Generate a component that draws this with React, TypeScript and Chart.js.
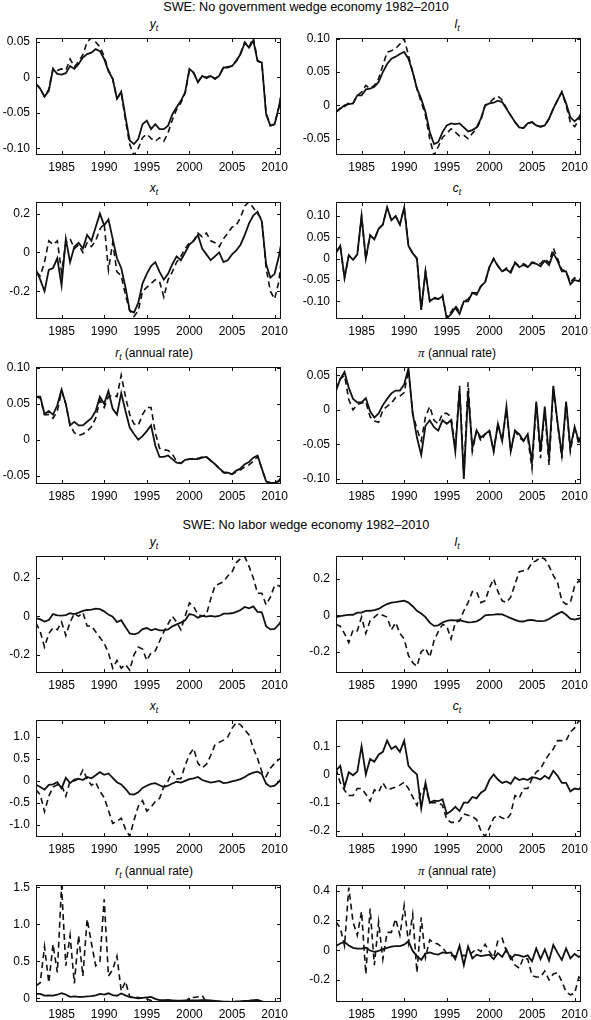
import { useEffect, useRef } from 'react';
import Chart from 'chart.js/auto';

// half-year sample dates, 1982 to 2010Q4
const dates = [
  1982, 1982.5, 1983, 1983.5, 1984, 1984.5, 1985, 1985.5, 1986, 1986.5,
  1987, 1987.5, 1988, 1988.5, 1989, 1989.5, 1990, 1990.5, 1991, 1991.5,
  1992, 1992.5, 1993, 1993.5, 1994, 1994.5, 1995, 1995.5, 1996, 1996.5,
  1997, 1997.5, 1998, 1998.5, 1999, 1999.5, 2000, 2000.5, 2001, 2001.5,
  2002, 2002.5, 2003, 2003.5, 2004, 2004.5, 2005, 2005.5, 2006, 2006.5,
  2007, 2007.5, 2008, 2008.5, 2009, 2009.5, 2010, 2010.5, 2010.75,
];
const yearTicks = [1985, 1990, 1995, 2000, 2005, 2010];

// data (solid line)
const yData = [-0.009, -0.016, -0.027, -0.019, 0.012, 0.005, 0.004, 0.006, 0.016, 0.012, 0.019, 0.028, 0.033, 0.035, 0.04, 0.037, 0.026, 0.009, -0.002, -0.03, -0.02, -0.056, -0.089, -0.094, -0.087, -0.066, -0.061, -0.073, -0.066, -0.073, -0.073, -0.068, -0.052, -0.042, -0.033, -0.021, 0.012, 0.007, -0.007, 0.002, -0.001, 0.002, -0.002, 0.002, 0.014, 0.014, 0.016, 0.023, 0.033, 0.049, 0.042, 0.052, 0.023, 0.021, -0.052, -0.068, -0.066, -0.042, -0.026];
const lData = [-0.01, -0.005, 0.0, 0.002, 0.003, 0.015, 0.015, 0.024, 0.025, 0.028, 0.035, 0.05, 0.062, 0.07, 0.073, 0.077, 0.08, 0.07, 0.05, 0.025, 0.01, -0.01, -0.04, -0.058, -0.055, -0.04, -0.03, -0.027, -0.028, -0.027, -0.033, -0.039, -0.037, -0.033, -0.02, 0.0, 0.003, 0.004, 0.007, 0.005, -0.005, -0.015, -0.025, -0.033, -0.034, -0.027, -0.025, -0.03, -0.032, -0.03, -0.02, -0.005, 0.008, 0.02, 0.003, -0.018, -0.024, -0.018, -0.012];
const xData = [-0.09, -0.14, -0.2, -0.09, -0.08, -0.03, -0.17, 0.07, -0.05, 0.03, 0.05, 0.02, 0.09, 0.06, 0.13, 0.2, 0.14, 0.17, 0.07, -0.03, -0.08, -0.18, -0.3, -0.31, -0.26, -0.16, -0.11, -0.07, -0.05, -0.1, -0.14, -0.11, -0.06, -0.02, -0.04, 0.0, 0.04, 0.06, 0.09, 0.02, -0.01, -0.04, -0.02, 0.0, -0.05, -0.04, -0.01, 0.01, 0.04, 0.09, 0.15, 0.19, 0.21, 0.16, -0.06, -0.13, -0.11, -0.02, 0.04];
const cData = [0.014, 0.03, -0.045, 0.008, -0.003, 0.01, 0.1, 0.0, 0.055, 0.045, 0.07, 0.08, 0.12, 0.09, 0.1, 0.08, 0.12, 0.03, 0.013, 0.0, -0.12, -0.03, -0.1, -0.093, -0.095, -0.088, -0.14, -0.13, -0.115, -0.13, -0.1, -0.1, -0.08, -0.085, -0.065, -0.055, -0.02, 0.0, -0.018, -0.03, -0.025, -0.033, -0.01, -0.02, -0.015, -0.02, -0.01, -0.012, -0.018, -0.005, -0.015, 0.013, -0.005, -0.03, -0.03, -0.06, -0.05, -0.053, -0.045];
const rData = [0.06, 0.06, 0.036, 0.04, 0.035, 0.048, 0.07, 0.05, 0.02, 0.025, 0.02, 0.02, 0.025, 0.03, 0.04, 0.06, 0.05, 0.068, 0.043, 0.035, 0.065, 0.04, 0.017, 0.008, 0.0, 0.005, 0.012, 0.02, -0.008, -0.024, -0.024, -0.022, -0.027, -0.032, -0.033, -0.028, -0.027, -0.027, -0.027, -0.025, -0.024, -0.029, -0.034, -0.04, -0.045, -0.046, -0.048, -0.043, -0.04, -0.034, -0.031, -0.025, -0.022, -0.04, -0.058, -0.06, -0.06, -0.058, -0.055];
const piData = [0.028, 0.045, 0.055, 0.032, 0.016, 0.011, 0.011, 0.017, -0.002, -0.011, -0.005, 0.007, 0.016, 0.024, 0.028, 0.028, 0.037, 0.06, -0.005, -0.04, -0.065, -0.023, -0.015, -0.025, -0.03, -0.015, -0.02, -0.015, -0.06, 0.03, -0.1, 0.025, -0.055, -0.03, -0.04, -0.035, -0.03, -0.06, -0.02, -0.045, 0.005, -0.06, -0.03, -0.035, -0.045, -0.035, -0.075, 0.012, -0.06, 0.005, -0.07, 0.035, -0.018, -0.065, 0.012, -0.055, -0.025, -0.045, -0.038];

// no government wedge economy (dashed, top block)
const yNoGov = [-0.009, -0.016, -0.027, -0.017, 0.013, 0.01, 0.012, 0.01, 0.026, 0.015, 0.022, 0.032, 0.05, 0.056, 0.05, 0.043, 0.03, 0.01, -0.002, -0.03, -0.022, -0.06, -0.095, -0.11, -0.1, -0.085, -0.08, -0.086, -0.09, -0.085, -0.09, -0.078, -0.06, -0.045, -0.036, -0.022, 0.01, 0.006, -0.006, 0.002, 0.0, 0.003, -0.002, 0.003, 0.014, 0.015, 0.016, 0.024, 0.034, 0.05, 0.043, 0.056, 0.024, 0.02, -0.05, -0.068, -0.066, -0.042, -0.026];
const lNoGov = [-0.01, -0.004, -0.002, 0.004, 0.003, 0.015, 0.02, 0.03, 0.025, 0.03, 0.04, 0.06, 0.08, 0.082, 0.085, 0.092, 0.1, 0.075, 0.05, 0.025, 0.005, -0.015, -0.05, -0.075, -0.062, -0.048, -0.042, -0.035, -0.04, -0.046, -0.045, -0.05, -0.042, -0.035, -0.022, 0.0, 0.004, 0.01, 0.014, 0.008, -0.004, -0.015, -0.025, -0.033, -0.034, -0.027, -0.025, -0.03, -0.032, -0.03, -0.02, -0.005, 0.008, 0.02, 0.0, -0.025, -0.032, -0.022, -0.014];
const xNoGov = [-0.1, -0.12, -0.05, 0.06, 0.04, 0.06, -0.1, 0.05, 0.07, 0.02, 0.04, 0.0, 0.05, 0.03, 0.06, 0.12, 0.15, -0.09, 0.05, -0.1, -0.12, -0.22, -0.3, -0.33, -0.3, -0.2, -0.18, -0.16, -0.14, -0.15, -0.23, -0.14, -0.1, -0.05, -0.02, 0.02, 0.05, 0.06, 0.1, 0.08, 0.1, 0.06, 0.05, 0.03, 0.07, 0.1, 0.13, 0.14, 0.18, 0.24, 0.26, 0.23, 0.2, 0.17, -0.08, -0.2, -0.24, -0.15, -0.05];
const cNoGov = [0.014, 0.03, -0.045, 0.008, -0.003, 0.01, 0.1, 0.0, 0.055, 0.045, 0.07, 0.08, 0.12, 0.09, 0.1, 0.08, 0.12, 0.03, 0.013, 0.0, -0.12, -0.03, -0.1, -0.09, -0.095, -0.085, -0.14, -0.125, -0.11, -0.125, -0.1, -0.095, -0.08, -0.08, -0.065, -0.055, -0.02, 0.0, -0.016, -0.03, -0.022, -0.03, -0.008, -0.018, -0.012, -0.018, -0.008, -0.01, -0.012, 0.0, -0.01, 0.025, 0.0, -0.025, -0.03, -0.055, -0.045, -0.05, -0.048];
const rNoGov = [0.06, 0.058, 0.035, 0.035, 0.03, 0.04, 0.068, 0.05, 0.02, 0.01, 0.006, 0.008, 0.012, 0.018, 0.03, 0.055, 0.045, 0.06, 0.062, 0.06, 0.09, 0.06, 0.035, 0.022, 0.02, 0.035, 0.045, 0.045, 0.01, -0.012, -0.014, -0.015, -0.02, -0.03, -0.033, -0.028, -0.027, -0.026, -0.026, -0.024, -0.024, -0.029, -0.034, -0.04, -0.046, -0.047, -0.048, -0.045, -0.042, -0.038, -0.035, -0.03, -0.023, -0.04, -0.058, -0.06, -0.06, -0.057, -0.052];
const piNoGov = [0.03, 0.045, 0.05, 0.015, 0.0, 0.008, 0.01, 0.012, -0.01, -0.016, -0.018, 0.0, 0.005, 0.01, 0.018, 0.02, 0.025, 0.058, -0.005, -0.028, -0.045, -0.01, 0.005, -0.015, -0.02, -0.005, -0.005, -0.01, -0.055, 0.035, -0.095, 0.04, -0.06, -0.03, -0.045, -0.035, -0.03, -0.06, -0.02, -0.045, 0.0, -0.06, -0.03, -0.04, -0.045, -0.04, -0.085, 0.01, -0.07, 0.0, -0.08, 0.03, -0.02, -0.07, 0.01, -0.06, -0.025, -0.05, -0.042];

// no labor wedge economy (dashed, bottom block)
const yNoLabor = [-0.035, -0.08, -0.16, -0.09, -0.06, -0.07, -0.03, -0.1, -0.03, 0.015, 0.0, 0.02, -0.05, -0.05, -0.08, -0.11, -0.14, -0.19, -0.27, -0.23, -0.27, -0.25, -0.28, -0.2, -0.16, -0.17, -0.23, -0.19, -0.18, -0.13, -0.08, -0.04, 0.0, -0.03, -0.07, 0.0, 0.07, 0.05, 0.01, 0.0, 0.01, 0.09, 0.16, 0.17, 0.18, 0.21, 0.23, 0.28, 0.3, 0.31, 0.26, 0.2, 0.12, 0.12, 0.06, 0.1, 0.16, 0.16, 0.15];
const lNoLabor = [-0.05, -0.06, -0.1, -0.15, -0.08, -0.085, -0.01, -0.1, -0.03, -0.01, 0.01, 0.0, -0.01, -0.08, -0.04, -0.1, -0.13, -0.22, -0.26, -0.28, -0.2, -0.18, -0.23, -0.14, -0.09, -0.05, -0.06, -0.13, -0.04, -0.03, 0.025, 0.07, 0.13, 0.13, 0.07, 0.08, 0.15, 0.2, 0.13, 0.08, 0.07, 0.1, 0.17, 0.24, 0.245, 0.25, 0.29, 0.3, 0.32, 0.31, 0.27, 0.22, 0.18, 0.08, 0.06, 0.07, 0.16, 0.19, 0.18];
const xNoLabor = [-0.2, -0.32, -0.7, -0.35, -0.14, -0.09, -0.09, -0.35, 0.0, 0.0, 0.05, 0.25, 0.05, -0.1, -0.03, -0.24, -0.38, -0.67, -0.97, -0.92, -0.85, -1.1, -1.26, -0.9, -0.58, -0.45, -0.69, -0.6, -0.47, -0.4, -0.13, 0.0, 0.22, 0.05, 0.05, 0.35, 0.6, 0.74, 0.4, 0.3, 0.38, 0.58, 0.82, 0.88, 0.93, 1.0, 1.2, 1.33, 1.28, 1.17, 1.05, 0.75, 0.51, 0.21, 0.1, 0.29, 0.4, 0.49, 0.52];
const cNoLabor = [0.02, -0.03, -0.056, -0.075, -0.075, -0.05, -0.05, -0.07, -0.095, -0.055, -0.063, -0.03, -0.055, -0.05, -0.045, -0.038, -0.028, -0.05, -0.08, -0.11, -0.06, -0.045, -0.1, -0.1, -0.1, -0.11, -0.16, -0.17, -0.17, -0.165, -0.14, -0.145, -0.15, -0.16, -0.2, -0.22, -0.19, -0.155, -0.145, -0.155, -0.16, -0.14, -0.075, -0.085, -0.05, -0.05, -0.015, 0.008, 0.02, 0.048, 0.072, 0.09, 0.12, 0.12, 0.12, 0.15, 0.165, 0.19, 0.19];
const rNoLabor = [0.17, 0.21, 0.7, 0.21, 0.73, 0.35, 1.52, 0.44, 0.85, 0.2, 0.85, 0.3, 1.07, 0.75, 0.44, 0.5, 1.34, 0.3, 0.39, 0.57, 0.1, 0.23, 0.02, 0.02, 0.01, 0.0, -0.01, -0.03, -0.06, -0.07, -0.07, -0.07, -0.07, -0.07, -0.07, -0.06, 0.01, 0.01, 0.02, 0.04, -0.06, -0.08, -0.08, -0.08, -0.08, -0.08, -0.08, -0.08, -0.08, -0.08, -0.08, -0.08, -0.08, -0.08, -0.08, -0.08, -0.08, -0.08, -0.08];
const piNoLabor = [0.19, 0.15, 0.03, 0.42, 0.19, 0.1, 0.26, -0.16, 0.28, -0.1, 0.19, -0.06, 0.12, 0.12, 0.21, 0.1, 0.3, 0.05, 0.24, -0.15, 0.22, -0.05, 0.07, 0.05, 0.04, 0.015, -0.02, -0.035, -0.04, -0.04, -0.035, -0.04, -0.015, 0.01, -0.01, 0.04, -0.01, -0.05, 0.065, 0.08, -0.01, -0.04, -0.1, -0.12, -0.05, -0.06, -0.17, -0.18, -0.18, -0.14, -0.2, -0.16, -0.15, -0.21, -0.28, -0.3, -0.29, -0.18, -0.19];

// y tick labels per panel
const ticksY1 = ['0.05', '0', '-0.05', '-0.10'];
const ticksL1 = ['0.10', '0.05', '0', '-0.05'];
const ticksX1 = ['0.2', '0', '-0.2'];
const ticksC1 = ['0.10', '0.05', '0', '-0.05', '-0.10'];
const ticksR1 = ['0.10', '0.05', '0', '-0.05'];
const ticksPi1 = ['0.05', '0', '-0.05', '-0.10'];
const ticksY2 = ['0.2', '0', '-0.2'];
const ticksL2 = ['0.2', '0', '-0.2'];
const ticksX2 = ['1.0', '0.5', '0', '-0.5', '-1.0'];
const ticksC2 = ['0.1', '0', '-0.1', '-0.2'];
const ticksR2 = ['1.5', '1.0', '0.5', '0'];
const ticksPi2 = ['0.4', '0.2', '0', '-0.2'];

const FONT = '"Liberation Sans", Arial, Helvetica, sans-serif';
const BOX_W = 245;
const BOX_H = 117;
const PAD_L = 36;
const PAD_T = 8;
const PAD_R = 10;
const PAD_B = 20;
const COL_X = [36, 336];
const TITLE_X = [154, 457];
const ROW_Y = [38, 202, 367, 556, 720, 885];

const panels = [
  { sym: 'y', sub: 't', rest: '', actual: yData, model: yNoGov, min: -0.1094, max: 0.0556, ticks: ticksY1, col: 0, row: 0 },
  { sym: 'l', sub: 't', rest: '', actual: lData, model: lNoGov, min: -0.0744, max: 0.101, ticks: ticksL1, col: 1, row: 0 },
  { sym: 'x', sub: 't', rest: '', actual: xData, model: xNoGov, min: -0.343, max: 0.26, ticks: ticksX1, col: 0, row: 1 },
  { sym: 'c', sub: 't', rest: '', actual: cData, model: cNoGov, min: -0.1416, max: 0.133, ticks: ticksC1, col: 1, row: 1 },
  { sym: 'r', sub: 't', rest: ' (annual rate)', actual: rData, model: rNoGov, min: -0.0617, max: 0.1014, ticks: ticksR1, col: 0, row: 2 },
  { sym: 'π', sub: '', rest: ' (annual rate)', actual: piData, model: piNoGov, min: -0.1073, max: 0.0622, ticks: ticksPi1, col: 1, row: 2 },
  { sym: 'y', sub: 't', rest: '', actual: yData, model: yNoLabor, min: -0.295, max: 0.314, ticks: ticksY2, col: 0, row: 3 },
  { sym: 'l', sub: 't', rest: '', actual: lData, model: lNoLabor, min: -0.317, max: 0.326, ticks: ticksL2, col: 1, row: 3 },
  { sym: 'x', sub: 't', rest: '', actual: xData, model: xNoLabor, min: -1.28, max: 1.39, ticks: ticksX2, col: 0, row: 4 },
  { sym: 'c', sub: 't', rest: '', actual: cData, model: cNoLabor, min: -0.222, max: 0.193, ticks: ticksC2, col: 1, row: 4 },
  { sym: 'r', sub: 't', rest: ' (annual rate)', actual: rData, model: rNoLabor, min: -0.05, max: 1.532, ticks: ticksR2, col: 0, row: 5 },
  { sym: 'π', sub: '', rest: ' (annual rate)', actual: piData, model: piNoLabor, min: -0.348, max: 0.438, ticks: ticksPi2, col: 1, row: 5 },
];

// matlab-ish box with inward tick marks on all four sides
const boxTicks = {
  id: 'boxTicks',
  afterDatasetsDraw(chart: any) {
    const { ctx, chartArea: a, scales } = chart;
    const len = 4;
    ctx.save();
    ctx.strokeStyle = '#111';
    ctx.lineWidth = 1;
    ctx.beginPath();
    scales.x.ticks.forEach((t: any) => {
      const px = Math.round(scales.x.getPixelForValue(t.value)) + 0.5;
      ctx.moveTo(px, a.bottom); ctx.lineTo(px, a.bottom - len);
      ctx.moveTo(px, a.top); ctx.lineTo(px, a.top + len);
    });
    scales.y.ticks.forEach((t: any) => {
      const py = Math.round(scales.y.getPixelForValue(t.value)) + 0.5;
      ctx.moveTo(a.left, py); ctx.lineTo(a.left + len, py);
      ctx.moveTo(a.right, py); ctx.lineTo(a.right - len, py);
    });
    ctx.stroke();
    ctx.strokeRect(a.left + 0.5, a.top + 0.5, a.right - a.left - 1, a.bottom - a.top - 1);
    ctx.restore();
  },
};

function Panel({ p }: { p: any }) {
  const ref = useRef<HTMLCanvasElement>(null);
  const boxLeft = COL_X[p.col];
  const boxTop = ROW_Y[p.row];
  const w = PAD_L + BOX_W + PAD_R;
  const h = PAD_T + BOX_H + PAD_B;

  useEffect(() => {
    if (!ref.current) return;
    const tickValues = p.ticks.map(Number);
    const chart = new Chart(ref.current, {
      type: 'line',
      data: {
        datasets: [
          {
            data: dates.map((d, i) => ({ x: d, y: p.actual[i] })),
            borderColor: '#111',
            borderWidth: 1.8,
            pointRadius: 0,
            tension: 0,
          },
          {
            data: dates.map((d, i) => ({ x: d, y: p.model[i] })),
            borderColor: '#111',
            borderWidth: 1.6,
            borderDash: [6, 4],
            pointRadius: 0,
            tension: 0,
          },
        ],
      },
      options: {
        animation: false,
        responsive: false,
        events: [],
        layout: { padding: { top: PAD_T, right: PAD_R, left: 0, bottom: 0 } },
        plugins: { legend: { display: false }, tooltip: { enabled: false } },
        scales: {
          x: {
            type: 'linear',
            min: 1982,
            max: 2010.75,
            grid: { display: false, drawTicks: false },
            border: { display: false },
            ticks: {
              font: { family: FONT, size: 12 },
              color: '#000',
              padding: 5,
              maxRotation: 0,
              autoSkip: false,
              callback: (v: any) => String(v),
            },
            afterBuildTicks: (s: any) => { s.ticks = yearTicks.map((v) => ({ value: v })); },
            afterFit: (s: any) => { s.height = PAD_B; s.paddingLeft = 0; s.paddingRight = 0; },
          },
          y: {
            min: p.min,
            max: p.max,
            grid: { display: false, drawTicks: false },
            border: { display: false },
            ticks: {
              font: { family: FONT, size: 12 },
              color: '#000',
              padding: 6,
              autoSkip: false,
              callback: (v: any) => p.ticks[tickValues.indexOf(v)] ?? '',
            },
            afterBuildTicks: (s: any) => { s.ticks = tickValues.map((v: number) => ({ value: v })); },
            afterFit: (s: any) => { s.width = PAD_L; s.paddingTop = 0; s.paddingBottom = 0; },
          },
        },
      },
      plugins: [boxTicks],
    } as any);
    return () => chart.destroy();
  }, [p]);

  return (
    <>
      <div
        style={{
          position: 'absolute',
          left: TITLE_X[p.col] - 110,
          width: 220,
          top: boxTop - 21,
          textAlign: 'center',
          fontSize: 12,
          lineHeight: '14px',
          whiteSpace: 'nowrap',
        }}
      >
        <i style={p.sym === 'π' ? { fontFamily: '"Liberation Serif", serif', fontSize: 13 } : {}}>{p.sym}</i>
        {p.sub && <i style={{ fontSize: 8.5, position: 'relative', top: 3 }}>{p.sub}</i>}
        {p.rest}
      </div>
      <canvas
        ref={ref}
        width={w}
        height={h}
        style={{ position: 'absolute', left: boxLeft - PAD_L, top: boxTop - PAD_T, width: w, height: h }}
      />
    </>
  );
}

export default function App() {
  const heading = {
    position: 'absolute' as const,
    left: 156,
    width: 300,
    textAlign: 'center' as const,
    fontSize: 12.7,
    lineHeight: '15px',
    whiteSpace: 'nowrap' as const,
  };
  return (
    <div
      style={{
        position: 'absolute',
        left: 0,
        top: 0,
        width: 591,
        height: 1020,
        background: '#fff',
        color: '#000',
        fontFamily: FONT,
        overflow: 'hidden',
      }}
    >
      <div style={{ ...heading, top: 0 }}>SWE: No government wedge economy 1982–2010</div>
      <div style={{ ...heading, top: 518 }}>SWE: No labor wedge economy 1982–2010</div>
      {panels.map((p, i) => (
        <Panel key={i} p={p} />
      ))}
    </div>
  );
}
